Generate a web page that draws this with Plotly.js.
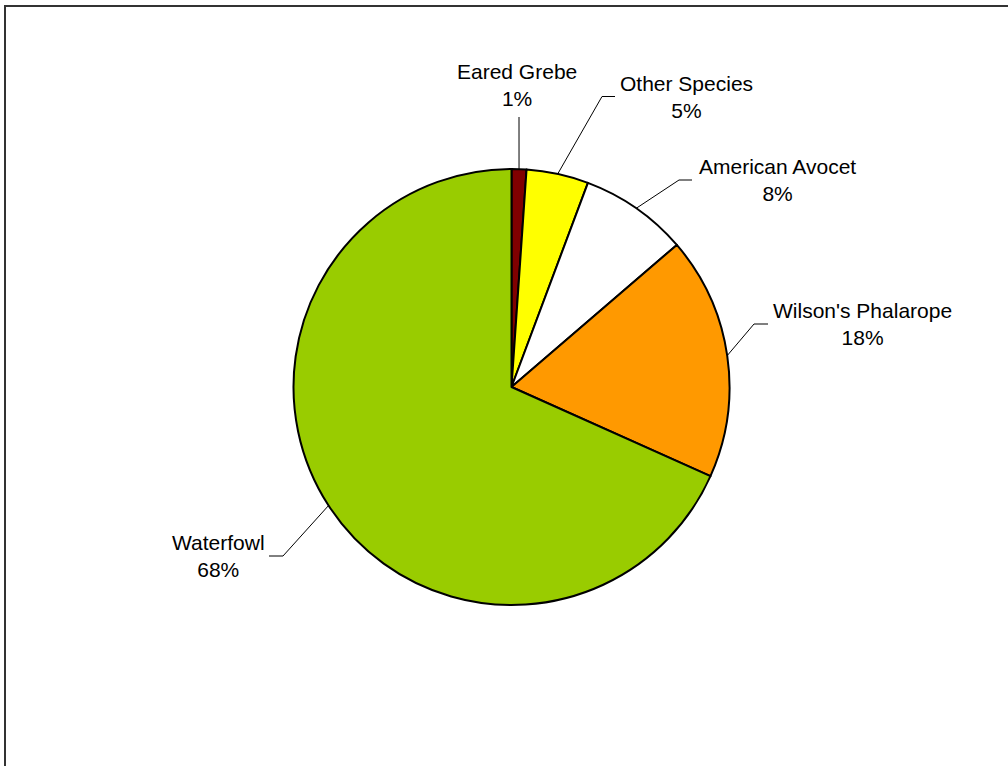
<!DOCTYPE html>
<html>
<head>
<meta charset="utf-8">
<script src="https://cdn.plot.ly/plotly-3.0.1.min.js"></script>
<style>
  html, body { margin: 0; padding: 0; background: #fff; }
  #chart { position: absolute; left: 0; top: 0; width: 1008px; height: 766px; }
  #frame { position: absolute; left: 4px; top: 5px; width: 1100px; height: 900px;
           border-left: 2px solid #333; border-top: 2px solid #333; pointer-events: none; z-index: 10; }
</style>
</head>
<body>
<div id="chart"></div>
<div id="frame"></div>
<script>
// ---- data ----
const species = ["Eared Grebe", "Other Species", "American Avocet", "Wilson's Phalarope", "Waterfowl"];
const shares = [1.1, 4.6, 8.0, 18.0, 68.3];
const sliceColors = ["#800000", "#FFFF00", "#FFFFFF", "#FF9900", "#99CC00"];

// ---- layout geometry (pixels) ----
const W = 1008, H = 766;
const cx = 511.5, cy = 387, R = 218;
// label block centers and leader elbow points (pixels)
const labelPos = [
  {x: 517, y: 85,  elbow: [519, 117], end: null},
  {x: 686, y: 96.5, elbow: [602, 96.5], end: [615, 96.5]},
  {x: 777, y: 180, elbow: [679, 180], end: [692, 180]},
  {x: 862, y: 324, elbow: [754, 324], end: [768, 324]},
  {x: 218, y: 556, elbow: [283, 556], end: [269, 556]}
];

const px = x => x / W;
const py = y => 1 - y / H;

const total = shares.reduce((a, b) => a + b, 0);
const shapes = [];
const annotations = [];
let cum = 0;
shares.forEach((v, i) => {
  const mid = (cum + v / 2) / total * 2 * Math.PI;
  cum += v;
  const rx = cx + R * Math.sin(mid);
  const ry = cy - R * Math.cos(mid);
  const lp = labelPos[i];
  shapes.push({type: 'line', xref: 'paper', yref: 'paper',
    x0: px(rx), y0: py(ry), x1: px(lp.elbow[0]), y1: py(lp.elbow[1]),
    line: {color: '#000', width: 1}});
  if (lp.end) {
    shapes.push({type: 'line', xref: 'paper', yref: 'paper',
      x0: px(lp.elbow[0]), y0: py(lp.elbow[1]), x1: px(lp.end[0]), y1: py(lp.end[1]),
      line: {color: '#000', width: 1}});
  }
  annotations.push({
    xref: 'paper', yref: 'paper', x: px(lp.x), y: py(lp.y),
    xanchor: 'center', yanchor: 'middle', align: 'center', showarrow: false,
    text: species[i] + '<br>' + Math.round(v / total * 100) + '%',
    font: {family: 'Liberation Sans, Arial, sans-serif', size: 21, color: '#000'}
  });
});

const trace = {
  type: 'pie',
  labels: species,
  values: shares,
  sort: false,
  direction: 'clockwise',
  rotation: 0,
  textinfo: 'none',
  hoverinfo: 'label+percent',
  marker: {colors: sliceColors, line: {color: '#000', width: 2}},
  domain: {x: [px(cx - R), px(cx + R)], y: [py(cy + R), py(cy - R)]},
  showlegend: false
};

const layout = {
  width: W, height: H,
  margin: {l: 0, r: 0, t: 0, b: 0},
  paper_bgcolor: '#fff',
  plot_bgcolor: '#fff',
  showlegend: false,
  shapes: shapes,
  annotations: annotations
};

Plotly.newPlot('chart', [trace], layout, {staticPlot: true, displayModeBar: false});
</script>
</body>
</html>
